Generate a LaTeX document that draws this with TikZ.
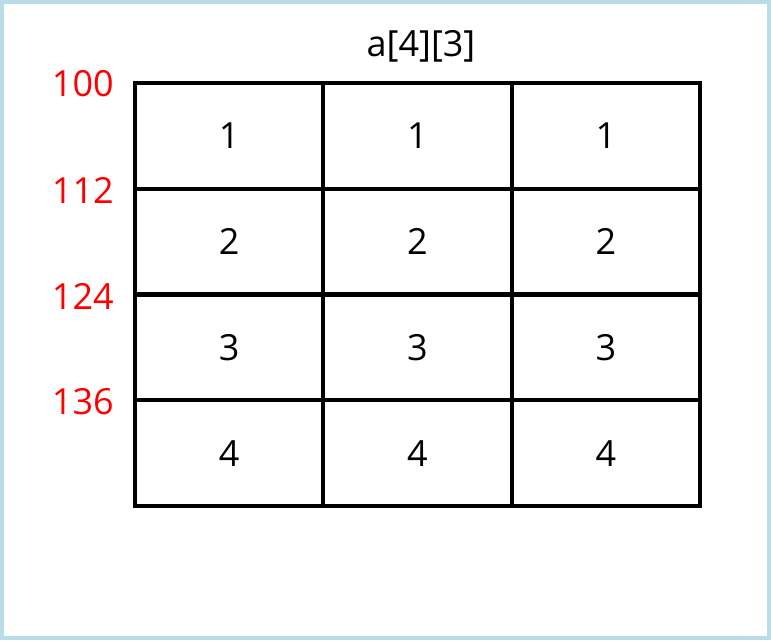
\documentclass[tikz,border=0pt]{standalone}
\usepackage{fontspec}
\setmainfont{Open Sans}
\usepackage{tikz}
\definecolor{framecol}{HTML}{B9DDE6}
\tikzset{
  cell/.style={draw, line width=3pt, inner sep=0pt,
    minimum width=141.25pt, minimum height=79.3pt},
  addr/.style={text=red, anchor=east, inner sep=0pt}
}

\begin{document}
\begin{tikzpicture}[x=0.75pt, y=-0.75pt, font=\fontsize{27}{30}\selectfont]
        \useasboundingbox (0,0) rectangle (771,640);
        \draw[framecol, line width=3pt] (2,2) rectangle (769,638);

        \node (title) at (421,46) {a[4][3]};

        \foreach \r in {1,...,4} {
            \foreach \c in {1,2,3} {
                \node[cell] (c-\r-\c) at ({135+188.33*(\c-0.5)},{83+105.75*(\r-0.5)}) {\r};
            }
        }

        \node[addr] (a-1) at (114,84)  {100};
        \node[addr] (a-2) at (114,190) {112};
        \node[addr] (a-3) at (114,296) {124};
        \node[addr] (a-4) at (114,402) {136};
    \end{tikzpicture}
\end{document}
